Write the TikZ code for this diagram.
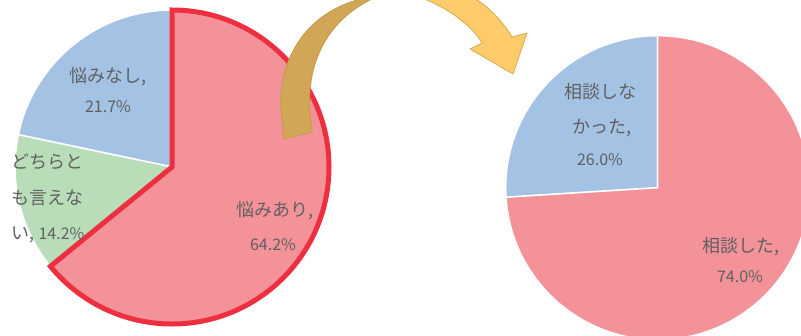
\documentclass[tikz,border=0pt]{standalone}
\usepackage{fontspec}
\newfontfamily\jp{Noto Sans CJK JP}
\definecolor{pinkc}{HTML}{F4929A}
\definecolor{bluec}{HTML}{A4C2E4}
\definecolor{greenc}{HTML}{B9DDB9}
\definecolor{redc}{HTML}{EE2F40}
\definecolor{txt}{HTML}{606060}
\definecolor{arrowdark}{HTML}{D1A656}
\definecolor{arrowdarkline}{HTML}{C39A4C}
\definecolor{arrowlight}{HTML}{FECB6B}
\definecolor{arrowlightline}{HTML}{D8AA52}
\begin{document}
\begin{tikzpicture}[x=1pt,y=-1pt,
  sector/.style={draw=white,line width=1.5pt},
  lbl/.style={text=txt,font=\jp\fontsize{18}{20}\selectfont,inner sep=0pt,anchor=center},
  num/.style={text=txt,font=\jp\fontsize{16}{18}\selectfont,inner sep=0pt,anchor=center},
  darkarrow/.style={fill=arrowdark,draw=arrowdarkline,line width=0.8pt},
  lightarrow/.style={fill=arrowlight,draw=arrowlightline,line width=0.8pt}]
\useasboundingbox (0,0) rectangle (801,335);
\clip (0,0) rectangle (801,335);
\coordinate (L) at (172,167);
\coordinate (R) at (657.7,187.7);
% left pie
\filldraw[fill=bluec,sector] (L) -- ++(-90:157) arc[start angle=-90,end angle=-168.12,radius=157] -- cycle;
\filldraw[fill=greenc,sector] (L) -- ++(-168.12:157) arc[start angle=-168.12,end angle=-219.24,radius=157] -- cycle;
\filldraw[fill=pinkc,sector] (L) -- ++(-219.24:157) arc[start angle=-219.24,end angle=-450,radius=157] -- cycle;
\draw[redc,line width=5pt,line join=miter] (L) -- ++(-90:157) arc[start angle=-90,end angle=140.76,radius=157] -- cycle;
% right pie
\filldraw[fill=bluec,sector] (R) -- ++(-90:152) arc[start angle=-90,end angle=-183.6,radius=152] -- cycle;
\filldraw[fill=pinkc,sector] (R) -- ++(-183.6:152) arc[start angle=-183.6,end angle=-450,radius=152] -- cycle;
% curved arrow
\filldraw[darkarrow] (284,139) -- (281,110) .. controls (278,60) and (305,15) .. (357,0) -- (374,-5) -- (386,-8) -- (370,0) .. controls (330,20) and (306,60) .. (310,113) -- (312,132) -- cycle;
\filldraw[lightarrow] (461,-10) -- (477,0) .. controls (490,8) and (503,22) .. (512,37) -- (527,33) -- (513,74) -- (470,49) -- (482,43) .. controls (475,30) and (455,12) .. (427,0) -- (410,-6) -- cycle;
% labels
\node[lbl] (t1a) at (108,77) {悩みなし,};
\node[num] (t1b) at (108,107) {21.7\%};
\node[lbl] (t2a) at (48,162) {どちらと};
\node[lbl] (t2b) at (48,198) {も言えな};
\node[lbl] (t2c) at (48,235) {い, {\fontsize{16}{18}\selectfont 14.2\%}};
\node[lbl] (t3a) at (275,211) {悩みあり,};
\node[num] (t3b) at (273,245) {64.2\%};
\node[lbl] (t4a) at (600,92) {相談しな};
\node[lbl] (t4b) at (602,128) {かった,};
\node[num] (t4c) at (600,160) {26.0\%};
\node[lbl] (t5a) at (741,247) {相談した,};
\node[num] (t5b) at (740,277) {74.0\%};
\end{tikzpicture}
\end{document}
